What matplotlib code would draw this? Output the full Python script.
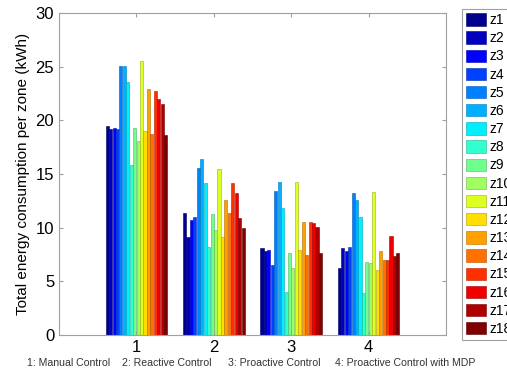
import matplotlib.pyplot as plt
import numpy as np

plt.rcParams['font.family'] = ['Liberation Sans', 'DejaVu Sans']

# strategies (x groups)
groups = ['1', '2', '3', '4']
zones = ['z%d' % i for i in range(1, 19)]

# total energy per zone (kWh), one list per strategy, z1..z18
manual = [19.5, 19.2, 19.3, 19.2, 25.1, 25.1, 23.6, 15.8, 19.3,
          18.1, 25.5, 19.0, 22.9, 18.7, 22.7, 22.0, 21.5, 18.6]
reactive = [11.4, 9.1, 10.7, 11.0, 15.6, 16.4, 14.2, 8.2, 11.3,
            9.8, 15.5, 9.1, 12.6, 11.4, 14.2, 13.2, 10.9, 10.0]
proactive = [8.1, 7.8, 7.9, 6.5, 13.4, 14.3, 11.8, 4.0, 7.6,
             6.2, 14.3, 7.9, 10.5, 7.5, 10.5, 10.4, 10.1, 7.6]
proactive_mdp = [6.2, 8.1, 7.8, 8.2, 13.2, 12.6, 11.0, 3.9, 6.8,
                 6.7, 13.3, 6.1, 7.8, 7.0, 7.0, 9.2, 7.4, 7.6]

data = np.array([manual, reactive, proactive, proactive_mdp])
captions = ['1: Manual Control', '2: Reactive Control',
            '3: Proactive Control', '4: Proactive Control with MDP']


def matlab_jet(m):
    # same as MATLAB's jet(m)
    n = int(np.ceil(m / 4))
    u = np.concatenate([np.arange(1, n + 1) / n, np.ones(n - 1),
                        np.arange(n, 0, -1) / n])
    g = int(np.ceil(n / 2)) - (1 if m % 4 == 1 else 0) + np.arange(1, len(u) + 1)
    r = g + n
    b = g - n
    J = np.zeros((m, 3))
    J[r[r <= m] - 1, 0] = u[r <= m]
    J[g[g <= m] - 1, 1] = u[g <= m]
    J[b[b >= 1] - 1, 2] = u[b >= 1]
    return J


fig = plt.figure(figsize=(5.07, 3.77), dpi=100)
ax = fig.add_axes([0.1164, 0.1114, 0.7633, 0.8541])

# bar series pick colours from the 64-entry jet map (scaled cdata)
cmap64 = matlab_jet(64)
k = np.arange(len(zones))
idx = np.minimum((k / (len(zones) - 1) * 64).astype(int), 63)
colors = cmap64[idx]

x = np.arange(1, len(groups) + 1)
slot = 0.8 / len(zones)
for i, z in enumerate(zones):
    ax.bar(x - 0.4 + slot * (i + 0.5), data[:, i], width=slot * 0.9,
           color=colors[i], edgecolor=colors[i] * 0.7,
           linewidth=0.4, label=z)

ax.set_xlim(0, 5)
ax.set_ylim(0, 30)
ax.set_xticks(x)
ax.set_xticklabels(groups)
ax.set_yticks(np.arange(0, 31, 5))
ax.tick_params(direction='in', top=True, right=True, labelsize=12,
               color='#a0a0a0', length=3)
for s in ax.spines.values():
    s.set_color('#a0a0a0')
    s.set_linewidth(0.8)
ax.set_ylabel('Total energy consumption per zone (kWh)', fontsize=11,
              labelpad=4)

for px, t in zip([27, 122, 228, 335], captions):
    fig.text(px / 507, 0.028, t, fontsize=7.6, color='#333333')

leg = fig.legend(loc='upper left', bbox_to_anchor=(462 / 507, 1 - 9 / 377),
                 fontsize=10, handlelength=1.45, handleheight=1.0,
                 handletextpad=0.2, labelspacing=0.3, borderpad=0.3,
                 borderaxespad=0, fancybox=False, edgecolor='#a0a0a0',
                 framealpha=1)
leg.get_frame().set_linewidth(0.8)

plt.savefig('out.png', dpi=100)
